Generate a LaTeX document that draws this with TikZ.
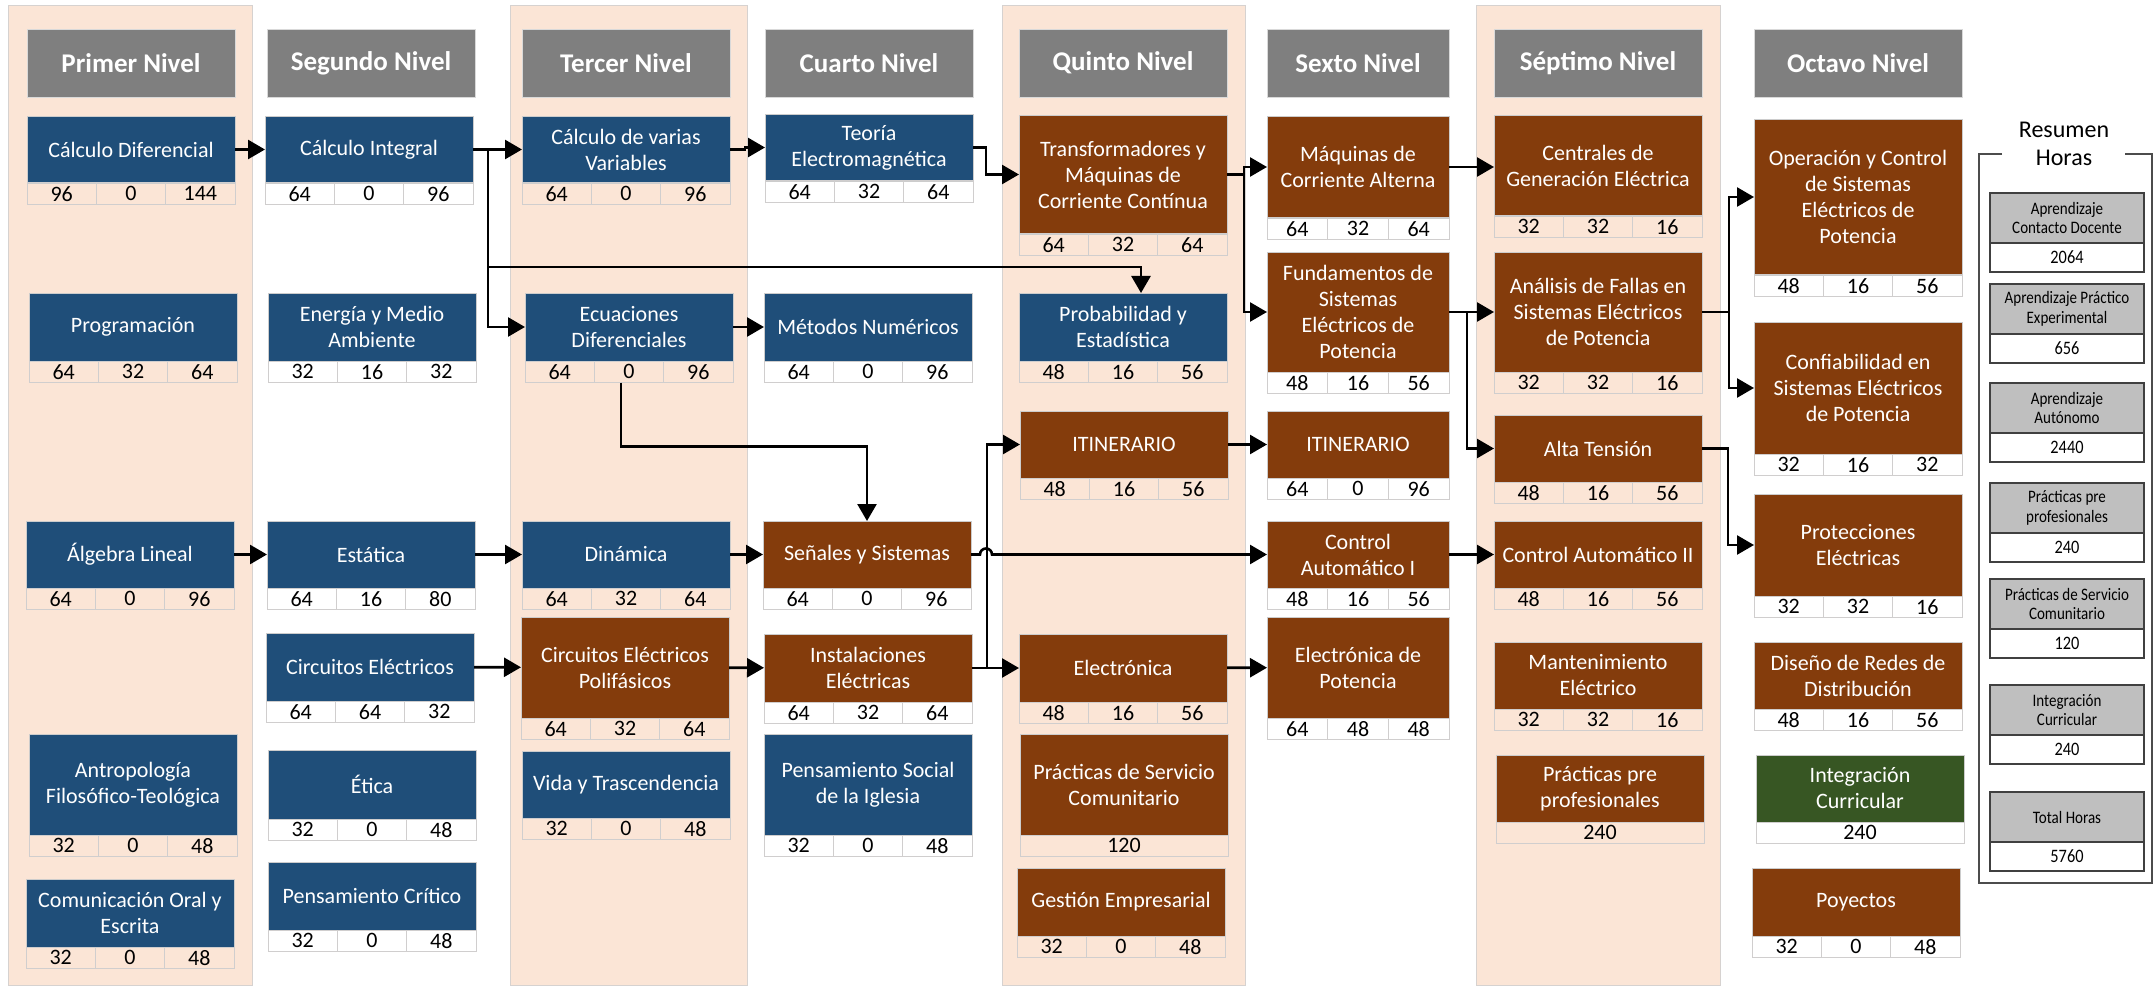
\documentclass[tikz,border=0pt]{standalone}
\usepackage{fontspec}
\setmainfont{Carlito}
\newfontfamily\narrowfont{Carlito}[FakeStretch=0.86]
\usetikzlibrary{positioning}
\usetikzlibrary{arrows.meta}
\usetikzlibrary{calc}
\definecolor{pBlue}{HTML}{1F4E79}
\definecolor{pBrown}{HTML}{843C0C}
\definecolor{pGreen}{HTML}{375623}
\definecolor{pHead}{HTML}{7F7F7F}
\definecolor{pBg}{HTML}{FBE5D6}
\definecolor{pBgLine}{HTML}{D6D2D0}
\definecolor{pCell}{HTML}{D0CECE}
\definecolor{pSum}{HTML}{BFBFBF}

% course box: [width]{name}{x,y top}{height}{colour}{title}{a}{b}{c}
\newcommand{\course}[9][208]{%
  \node[course, fill=#5, minimum width=#1, minimum height=#4, anchor=north] (#2) at (#3) {#6};
  \node[cell, minimum width=#1/3, anchor=north west] (#2-1) at (#2.south west) {#7};
  \node[cell, minimum width=#1/3, right=0pt of #2-1] (#2-2) {#8};
  \node[cell, minimum width=#1/3, right=0pt of #2-2] (#2-3) {#9};
}
% course box with one total: {name}{x,y top}{height}{colour}{title}{total}
\newcommand{\coursetotal}[6]{%
  \node[course, fill=#4, minimum width=208, minimum height=#3, anchor=north] (#1) at (#2) {#5};
  \node[cell, minimum width=208, anchor=north] (#1-1) at (#1.south) {#6};
}
% summary box: {name}{y top}{label}{hours}
\newcommand{\hoursbox}[4]{%
  \node[sumhead, anchor=north] (#1) at (2067,#2) {#3};
  \node[sumval, anchor=north] (#1-v) at (#1.south) {#4};
}

\begin{document}
\begin{tikzpicture}[x=1pt, y=-1pt,
    header/.style={fill=pHead, draw=black!15, line width=0.8pt, text=white, minimum width=208, minimum height=68,
      inner sep=0pt, outer sep=0pt, font=\fontsize{27}{30}\selectfont\bfseries},
    course/.style={draw=black!20, line width=0.8pt, text=white, align=center, inner sep=0pt, outer sep=0pt,
      font=\fontsize{22}{26}\selectfont},
    cell/.style={draw=pCell, line width=1pt, minimum height=21.5, inner sep=0pt, outer sep=0pt,
      font=\fontsize{22}{22}\selectfont},
    sumhead/.style={fill=pSum, draw=black!75, line width=1.2pt, minimum width=154, minimum height=50, align=center,
      inner sep=0pt, outer sep=0pt, font=\narrowfont\fontsize{17.5}{19.5}\selectfont},
    sumval/.style={fill=white, draw=black!75, line width=1.2pt, minimum width=154, minimum height=29,
      inner sep=0pt, outer sep=0pt, font=\narrowfont\fontsize{19}{20}\selectfont},
    arr/.style={line width=2.6pt, -{Triangle[length=17pt,width=19pt]}}]

  \useasboundingbox (0,0) rectangle (2156,987);

  % shaded levels
  \draw[fill=pBg, draw=pBgLine, line width=1pt] (8,6) rectangle (252,985);
  \draw[fill=pBg, draw=pBgLine, line width=1pt] (510,6) rectangle (747,985);
  \draw[fill=pBg, draw=pBgLine, line width=1pt] (1002,6) rectangle (1245,985);
  \draw[fill=pBg, draw=pBgLine, line width=1pt] (1476,6) rectangle (1720,985);

  \node[header] (lvl1) at (131,63) {Primer Nivel};
  \node[header] (lvl2) at (371,63) {Segundo Nivel};
  \node[header] (lvl3) at (626,63) {Tercer Nivel};
  \node[header] (lvl4) at (869,63) {Cuarto Nivel};
  \node[header] (lvl5) at (1123,63) {Quinto Nivel};
  \node[header, minimum width=182] (lvl6) at (1358,63) {Sexto Nivel};
  \node[header] (lvl7) at (1598,63) {Séptimo Nivel};
  \node[header] (lvl8) at (1858,63) {Octavo Nivel};

  % primer nivel
  \course{calcdif}{131,116}{67}{pBlue}{Cálculo Diferencial}{96}{0}{144}
  \course{prog}{133,293}{68}{pBlue}{Programación}{64}{32}{64}
  \course{alglin}{130,521}{67}{pBlue}{Álgebra Lineal}{64}{0}{96}
  \course{antrop}{133,734}{101}{pBlue}{Antropología\\Filosófico-Teológica}{32}{0}{48}
  \course{comunic}{130,879}{68}{pBlue}{Comunicación Oral y\\Escrita}{32}{0}{48}

  % segundo nivel
  \course{calcint}{369,116}{67}{pBlue}{Cálculo Integral}{64}{0}{96}
  \course{energia}{372,293}{68}{pBlue}{Energía y Medio\\Ambiente}{32}{16}{32}
  \course{estatica}{371,521}{67}{pBlue}{Estática}{64}{16}{80}
  \course{circelec}{370,633}{68}{pBlue}{Circuitos Eléctricos}{64}{64}{32}
  \course{etica}{372,750}{69}{pBlue}{Ética}{32}{0}{48}
  \course{pcritico}{372,862}{68}{pBlue}{Pensamiento Crítico}{32}{0}{48}

  % tercer nivel
  \course{calcvar}{626,116}{67}{pBlue}{Cálculo de varias\\Variables}{64}{0}{96}
  \course{ecudif}{629,293}{68}{pBlue}{Ecuaciones\\Diferenciales}{64}{0}{96}
  \course{dinamica}{626,521}{67}{pBlue}{Dinámica}{64}{32}{64}
  \course{circpoli}{625,617}{101}{pBrown}{Circuitos Eléctricos\\Polifásicos}{64}{32}{64}
  \course{vida}{626,751}{67}{pBlue}{Vida y Trascendencia}{32}{0}{48}

  % cuarto nivel
  \course{teoria}{869,114}{67}{pBlue}{Teoría\\Electromagnética}{64}{32}{64}
  \course{metodos}{868,293}{68}{pBlue}{Métodos Numéricos}{64}{0}{96}
  \course{senales}{867,521}{67}{pBrown}{Señales y Sistemas}{64}{0}{96}
  \course{instal}{868,634}{68}{pBrown}{Instalaciones\\Eléctricas}{64}{32}{64}
  \course{psocial}{868,734}{101}{pBlue}{Pensamiento Social\\de la Iglesia}{32}{0}{48}

  % quinto nivel
  \course{transf}{1123,115}{119}{pBrown}{Transformadores y\\Máquinas de\\Corriente Contínua}{64}{32}{64}
  \course{prob}{1123,293}{68}{pBlue}{Probabilidad y\\Estadística}{48}{16}{56}
  \course{itin5}{1124,411}{67}{pBrown}{ITINERARIO}{48}{16}{56}
  \course{electr}{1123,634}{68}{pBrown}{Electrónica}{48}{16}{56}
  \coursetotal{pservicio}{1124,734}{101}{pBrown}{Prácticas de Servicio\\Comunitario}{120}
  \course{gestion}{1121,868}{68}{pBrown}{Gestión Empresarial}{32}{0}{48}

  % sexto nivel
  \course[182]{maqca}{1358,116}{102}{pBrown}{Máquinas de\\Corriente Alterna}{64}{32}{64}
  \course[182]{fundsep}{1358,252}{120}{pBrown}{Fundamentos de\\Sistemas\\Eléctricos de\\Potencia}{48}{16}{56}
  \course[182]{itin6}{1358,411}{67}{pBrown}{ITINERARIO}{64}{0}{96}
  \course[182]{control1}{1358,521}{67}{pBrown}{Control\\Automático I}{48}{16}{56}
  \course[182]{elecpot}{1358,617}{101}{pBrown}{Electrónica de\\Potencia}{64}{48}{48}

  % septimo nivel
  \course{centrales}{1598,115}{101}{pBrown}{Centrales de\\Generación Eléctrica}{32}{32}{16}
  \course{fallas}{1598,252}{120}{pBrown}{Análisis de Fallas en\\Sistemas Eléctricos\\de Potencia}{32}{32}{16}
  \course{altat}{1598,415}{67}{pBrown}{Alta Tensión}{48}{16}{56}
  \course{control2}{1598,521}{67}{pBrown}{Control Automático II}{48}{16}{56}
  \course{manten}{1598,642}{67}{pBrown}{Mantenimiento\\Eléctrico}{32}{32}{16}
  \coursetotal{ppre}{1600,755}{67}{pBrown}{Prácticas pre\\profesionales}{240}

  % octavo nivel
  \course{operacion}{1858,119}{156}{pBrown}{Operación y Control\\de Sistemas\\Eléctricos de\\Potencia}{48}{16}{56}
  \course{confiab}{1858,322}{132}{pBrown}{Confiabilidad en\\Sistemas Eléctricos\\de Potencia}{32}{16}{32}
  \course{protec}{1858,494}{102}{pBrown}{Protecciones\\Eléctricas}{32}{32}{16}
  \course{redes}{1858,642}{67}{pBrown}{Diseño de Redes de\\Distribución}{48}{16}{56}
  \coursetotal{integ}{1860,755}{67}{pGreen}{Integración\\Curricular}{240}
  \course{proyectos}{1856,868}{68}{pBrown}{Poyectos}{32}{0}{48}

  % resumen de horas
  \node[font=\fontsize{24}{28}\selectfont, align=center] (resumen) at (2064,144) {Resumen\\Horas};
  \draw[black!70, line width=1.3pt] (2002,154) -- (1979,154) -- (1979,883) -- (2152,883) -- (2152,154) -- (2125,154);
  \hoursbox{acd}{193}{Aprendizaje\\Contacto Docente}{2064}
  \hoursbox{ape}{284}{Aprendizaje Práctico\\Experimental}{656}
  \hoursbox{aa}{383}{Aprendizaje\\Autónomo}{2440}
  \hoursbox{ppp}{483}{Prácticas pre\\profesionales}{240}
  \hoursbox{psc}{579}{Prácticas de Servicio\\Comunitario}{120}
  \hoursbox{icu}{685}{Integración\\Curricular}{240}
  \hoursbox{total}{792}{Total Horas}{5760}

  % prerequisites
  \draw[arr] (calcdif) -- (calcint);
  \draw[arr] (calcint) -- (calcvar);
  \draw[arr] (calcint.east) -- ++(15,0) |- (ecudif.west);
  \coordinate (probin) at ([xshift=18pt]prob.north);
  \draw[arr] (calcint.east) -- ++(15,0) |- ([yshift=26pt]probin) -- (probin);
  \draw[arr] (calcvar.east) -- ++(15,0) |- (teoria.west);
  \draw[arr] (teoria.east) -- ++(13,0) |- (transf.west);
  \draw[arr] (transf.east) -- ++(17,0) |- (maqca.west);
  \draw[arr] (transf.east) -- ++(17,0) |- (fundsep.west);
  \draw[arr] (maqca.east) -- (maqca.east -| centrales.west);
  \draw[arr] (fundsep) -- (fallas);
  \draw[arr] (fundsep.east) -- ++(18,0) |- (altat.west);
  \draw[arr] (fallas.east) -- ++(27,0) |- (operacion.west);
  \draw[arr] (fallas.east) -- ++(27,0) |- (confiab.west);
  \draw[arr] (altat.east) -- ++(26,0) |- (protec.west);
  \draw[arr] (ecudif) -- (metodos);
  \draw[arr] ([xshift=-8pt]ecudif-2.south) -- ++(0,64) -| (senales.north);
  \draw[arr] (alglin) -- (estatica);
  \draw[arr] (estatica) -- (dinamica);
  \draw[arr] (dinamica) -- (senales);
  \draw[arr] (senales.east) -- ++(9,0) arc[start angle=180, end angle=0, radius=6pt] -- (control1.west);
  \draw[arr] (control1) -- (control2);
  \draw[arr] (circelec) -- (circpoli);
  \draw[arr] (circpoli) -- (instal);
  \draw[arr] (instal) -- (electr);
  \draw[arr] (instal.east) -- ++(15,0) |- (itin5.west);
  \draw[arr] (itin5) -- (itin6);
  \draw[arr] (electr) -- (elecpot);

\end{tikzpicture}
\end{document}
